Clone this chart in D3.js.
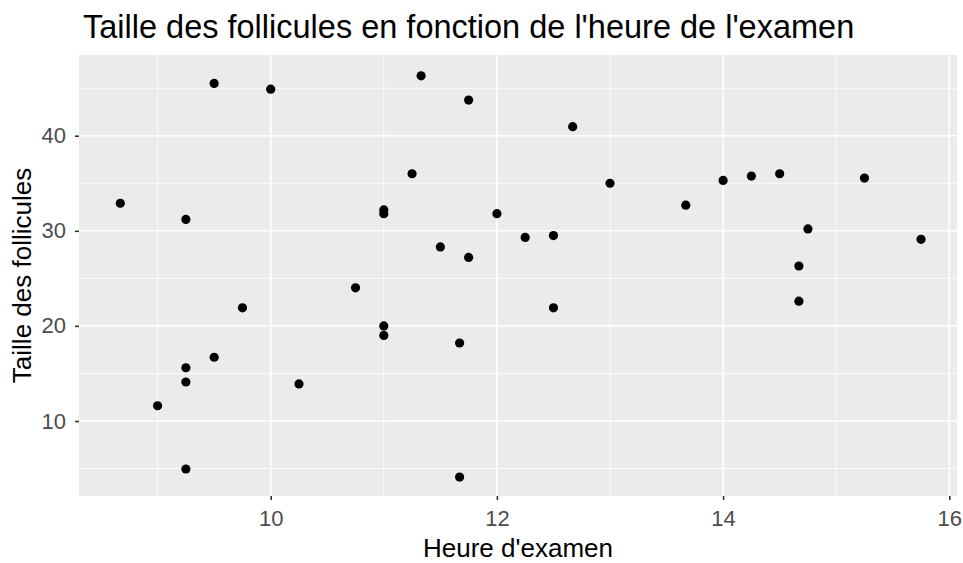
<!DOCTYPE html>
<html>
<head>
<meta charset="utf-8">
<script src="https://cdn.jsdelivr.net/npm/d3@7"></script>
<style>
  html, body { margin: 0; padding: 0; background: #fff; }
  svg { display: block; font-family: "Liberation Sans", Arial, sans-serif; }
</style>
</head>
<body>
<svg id="chart" width="963" height="563"></svg>
<script>
// Heure d'examen (heures décimales) et taille des follicules
const heures = [
  8.67, 9.0, 9.25, 9.25, 9.25, 9.25, 9.5, 9.5, 9.75, 10.0,
  10.25, 10.75, 11.0, 11.0, 11.0, 11.0, 11.25, 11.33, 11.5, 11.75,
  11.75, 11.67, 11.67, 12.0, 12.25, 12.5, 12.5, 12.67, 13.0, 13.67,
  14.0, 14.25, 14.5, 14.75, 14.67, 14.67, 15.25, 15.75
];
const tailles = [
  32.9, 11.6, 31.2, 15.6, 14.1, 4.95, 45.5, 16.7, 21.9, 44.9,
  13.9, 24.0, 32.2, 31.8, 20.0, 19.0, 36.0, 46.3, 28.3, 43.75,
  27.2, 18.2, 4.1, 31.8, 29.3, 29.5, 21.9, 40.95, 35.0, 32.7,
  35.3, 35.76, 36.0, 30.2, 26.3, 22.6, 35.55, 29.1
];
// limites des axes
const xLimites = [8.305, 16.068];
const yLimites = [2.11, 48.49];
const xTicks = [10, 12, 14, 16];
const xMinor = [9, 11, 13, 15];
const yTicks = [10, 20, 30, 40];
const yMinor = [5, 15, 25, 35, 45];

const titre = "Taille des follicules en fonction de l'heure de l'examen";
const titreX = "Heure d'examen";
const titreY = "Taille des follicules";

const points = heures.map((h, i) => ({ x: h, y: tailles[i] }));

const svg = d3.select("#chart");
const panel = { left: 79, right: 957, top: 55, bottom: 496 };

const x = d3.scaleLinear().domain(xLimites).range([panel.left, panel.right]);
const y = d3.scaleLinear().domain(yLimites).range([panel.bottom, panel.top]);

// fond du panneau
svg.append("rect")
  .attr("x", panel.left).attr("y", panel.top)
  .attr("width", panel.right - panel.left).attr("height", panel.bottom - panel.top)
  .attr("fill", "#EBEBEB");

const grid = svg.append("g");
// grille mineure
grid.selectAll(".vmin").data(xMinor).join("line")
  .attr("x1", d => x(d)).attr("x2", d => x(d))
  .attr("y1", panel.top).attr("y2", panel.bottom)
  .attr("stroke", "#fff").attr("stroke-width", 0.8);
grid.selectAll(".hmin").data(yMinor).join("line")
  .attr("y1", d => y(d)).attr("y2", d => y(d))
  .attr("x1", panel.left).attr("x2", panel.right)
  .attr("stroke", "#fff").attr("stroke-width", 0.8);
// grille majeure
grid.selectAll(".vmaj").data(xTicks).join("line")
  .attr("x1", d => x(d)).attr("x2", d => x(d))
  .attr("y1", panel.top).attr("y2", panel.bottom)
  .attr("stroke", "#fff").attr("stroke-width", 1.6);
grid.selectAll(".hmaj").data(yTicks).join("line")
  .attr("y1", d => y(d)).attr("y2", d => y(d))
  .attr("x1", panel.left).attr("x2", panel.right)
  .attr("stroke", "#fff").attr("stroke-width", 1.6);

// axes
const xAxis = d3.axisBottom(x).tickValues(xTicks).tickSize(4).tickPadding(10).tickFormat(d3.format("d"));
const yAxis = d3.axisLeft(y).tickValues(yTicks).tickSize(4).tickPadding(9).tickFormat(d3.format("d"));

const gx = svg.append("g").attr("transform", `translate(0,${panel.bottom})`).call(xAxis);
const gy = svg.append("g").attr("transform", `translate(${panel.left},0)`).call(yAxis);
[gx, gy].forEach(g => {
  g.select(".domain").remove();
  g.selectAll(".tick line").attr("stroke", "#333333").attr("stroke-width", 1.6);
  g.selectAll(".tick text").attr("fill", "#4D4D4D").style("font-size", "22px")
    .style("font-family", "'Liberation Sans', Arial, sans-serif");
});

// points
svg.append("g").selectAll("circle").data(points).join("circle")
  .attr("cx", d => x(d.x)).attr("cy", d => y(d.y))
  .attr("r", 4.6).attr("fill", "#000");

// titres
svg.append("text")
  .attr("x", 83).attr("y", 38)
  .style("font-size", "32.5px").attr("fill", "#000")
  .text(titre);
svg.append("text")
  .attr("x", (panel.left + panel.right) / 2).attr("y", 557)
  .attr("text-anchor", "middle")
  .style("font-size", "26px").attr("fill", "#000")
  .text(titreX);
svg.append("text")
  .attr("transform", `translate(31,${(panel.top + panel.bottom) / 2}) rotate(-90)`)
  .attr("text-anchor", "middle")
  .style("font-size", "26px").attr("fill", "#000")
  .text(titreY);
</script>
</body>
</html>
